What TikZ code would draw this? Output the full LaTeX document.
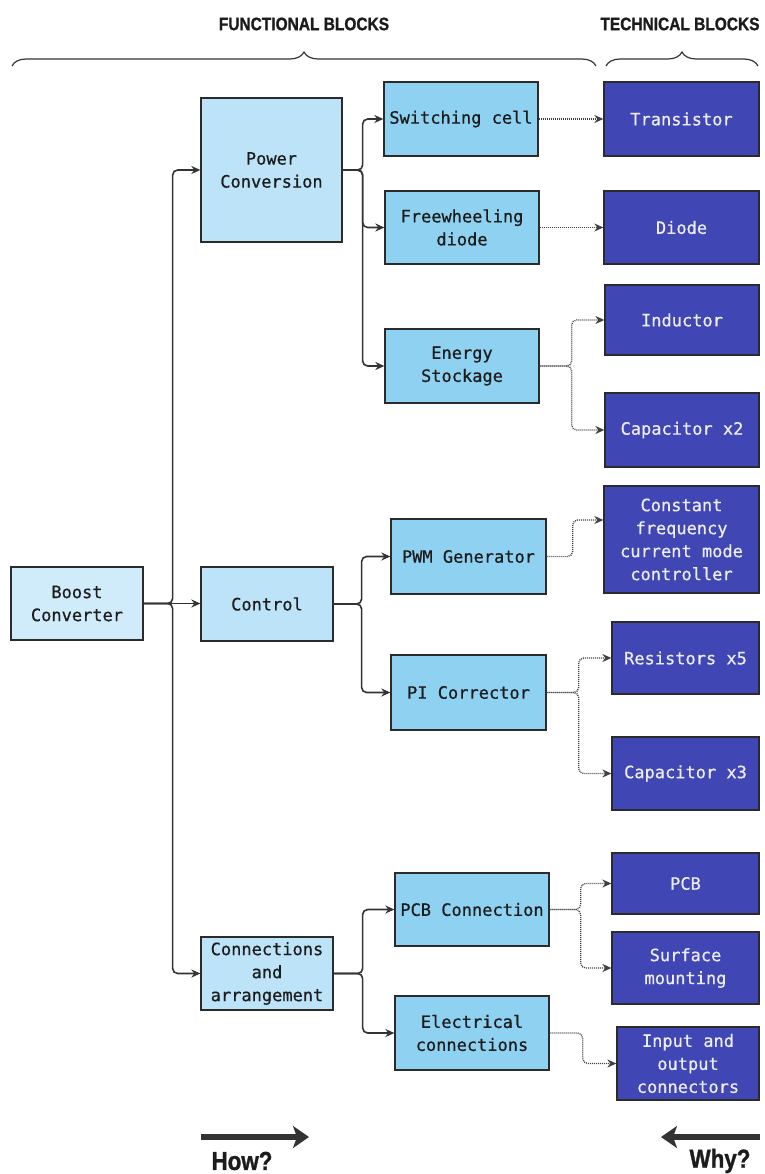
\documentclass[tikz,border=0pt]{standalone}
\usepackage{fontspec}
\usetikzlibrary{arrows.meta,decorations.pathreplacing}
\newfontfamily\monofam[FakeBold=0.6]{DejaVu Sans Mono}
\newfontfamily\headfam[FakeStretch=0.86,FakeBold=1.2,UprightFont=* Bold]{Liberation Sans}

\definecolor{rootfill}{HTML}{D0EBF9}
\definecolor{funcfill}{HTML}{BCE3F8}
\definecolor{subfill}{HTML}{8ED1F1}
\definecolor{techfill}{HTML}{4047B4}
\definecolor{techtext}{HTML}{EDEDF7}
\definecolor{darktext}{HTML}{1C1C1C}
\definecolor{boxline}{HTML}{2B2B2B}
\definecolor{linecol}{HTML}{333333}
\definecolor{dotcol}{HTML}{404040}

\tikzset{
  box/.style={draw=boxline, line width=1.3pt, align=center, inner sep=2pt,
    font=\monofam\fontsize{17}{23}\selectfont, text=darktext},
  rootbox/.style={box, fill=rootfill},
  funcbox/.style={box, fill=funcfill},
  subbox/.style={box, fill=subfill},
  techbox/.style={box, fill=techfill, text=techtext},
  link/.style={draw=linecol, line width=1.6pt, rounded corners=5pt,
    -{Stealth[length=9pt,width=8pt]}},
  dlink/.style={draw=dotcol, line width=1.3pt, dash pattern=on 1pt off 1pt,
    rounded corners=5pt, -{Stealth[length=9pt,width=8pt]}},
  header/.style={font=\headfam\fontsize{18}{20}\selectfont, text=darktext},
  brace/.style={draw=linecol, line width=1.2pt,
    decorate, decoration={brace, amplitude=14pt}},
  bigarrow/.style={draw=linecol, line width=6pt,
    -{Stealth[length=16pt,width=22pt,inset=4pt]}},
  question/.style={font=\headfam\fontsize{26}{28}\selectfont, text=darktext},
}

\begin{document}
\begin{tikzpicture}[x=1pt, y=-1pt]
\useasboundingbox (0,0) rectangle (764,1174);

% column headers and braces
\node[header] (hfun) at (304,24) {FUNCTIONAL BLOCKS};
\node[header] (htec) at (680,24) {TECHNICAL BLOCKS};
\coordinate (bfa) at (12,66);  \coordinate (bfb) at (596,66);
\coordinate (bta) at (606,66); \coordinate (btb) at (758,66);
\draw[brace] (bfa) -- (bfb);
\draw[brace] (bta) -- (btb);

% root
\node[rootbox, minimum width=132pt, minimum height=73pt] (boost) at (77,603.5) {Boost\\Converter};

% functional blocks, first level
\node[funcbox, minimum width=141pt, minimum height=144pt] (power) at (271.5,170) {Power\\Conversion};
\node[funcbox, minimum width=132pt, minimum height=74pt] (control) at (267,604) {Control};
\node[funcbox, minimum width=132pt, minimum height=73pt] (conn) at (267,973.5) {Connections\\and\\arrangement};

% functional blocks, second level
\node[subbox, minimum width=154pt, minimum height=74pt] (switch) at (461,119) {Switching cell};
\node[subbox, minimum width=154pt, minimum height=73pt] (free) at (462,227.5) {Freewheeling\\diode};
\node[subbox, minimum width=154pt, minimum height=74pt] (energy) at (462,366) {Energy\\Stockage};
\node[subbox, minimum width=155pt, minimum height=75pt] (pwm) at (468.5,556.5) {PWM Generator};
\node[subbox, minimum width=155pt, minimum height=75pt] (pi) at (468.5,692.5) {PI Corrector};
\node[subbox, minimum width=154pt, minimum height=73pt] (pcbc) at (472,909.5) {PCB Connection};
\node[subbox, minimum width=154pt, minimum height=74pt] (elec) at (472,1033) {Electrical\\connections};

% technical blocks
\node[techbox, minimum width=155pt, minimum height=74pt] (trans) at (681.5,119) {Transistor};
\node[techbox, minimum width=155pt, minimum height=73pt] (diode) at (681.5,227.5) {Diode};
\node[techbox, minimum width=154pt, minimum height=70pt] (induct) at (682,320) {Inductor};
\node[techbox, minimum width=154pt, minimum height=74pt] (cap2) at (682,430) {Capacitor x2};
\node[techbox, minimum width=155pt, minimum height=107pt] (cfc) at (681.5,539.5) {Constant\\frequency\\current mode\\controller};
\node[techbox, minimum width=147pt, minimum height=72pt] (res) at (685.5,658) {Resistors x5};
\node[techbox, minimum width=147pt, minimum height=73pt] (cap3) at (685.5,773.5) {Capacitor x3};
\node[techbox, minimum width=147pt, minimum height=61pt] (pcb) at (685.5,883.5) {PCB};
\node[techbox, minimum width=147pt, minimum height=72pt] (surf) at (685.5,968) {Surface\\mounting};
\node[techbox, minimum width=142pt, minimum height=73pt] (io) at (688,1063.5) {Input and\\output\\connectors};

% root to first level
\draw[link] (boost.east) -- ++(29,0) |- (power.west);
\draw[link] (boost.east) -- (control.west |- boost.east);
\draw[link] (boost.east) -- ++(29,0) |- (conn.west);

% first level to second level
\draw[link] (power.east) -- ++(20,0) |- (switch.west);
\draw[link] (power.east) -- ++(20,0) |- (free.west);
\draw[link] (power.east) -- ++(20,0) |- (energy.west);
\draw[link] (control.east) -- ++(28,0) |- (pwm.west);
\draw[link] (control.east) -- ++(28,0) |- (pi.west);
\draw[link] (conn.east) -- ++(29,0) |- (pcbc.west);
\draw[link] (conn.east) -- ++(29,0) |- (elec.west);

% functional to technical
\draw[dlink] (switch.east) -- (trans.west);
\draw[dlink] (free.east) -- (diode.west);
\draw[dlink] (energy.east) -- ++(32,0) |- (induct.west);
\draw[dlink] (energy.east) -- ++(32,0) |- (cap2.west);
\draw[dlink] (pwm.east) -- ++(26,0) |- (cfc.west |- 0,520);
\draw[dlink] (pi.east) -- ++(32,0) |- (res.west);
\draw[dlink] (pi.east) -- ++(32,0) |- (cap3.west);
\draw[dlink] (pcbc.east) -- ++(31,0) |- (pcb.west);
\draw[dlink] (pcbc.east) -- ++(31,0) |- (surf.west);
\draw[dlink] (elec.east) -- ++(33,0) |- (io.west);

% reading directions
\coordinate (howa) at (201,1137); \coordinate (howb) at (309,1137);
\coordinate (whya) at (760,1137); \coordinate (whyb) at (661,1137);
\draw[bigarrow] (howa) -- (howb);
\draw[bigarrow] (whya) -- (whyb);
\node[question] (how) at (242,1161) {How?};
\node[question] (why) at (720,1161) {Why?};
\end{tikzpicture}
\end{document}
